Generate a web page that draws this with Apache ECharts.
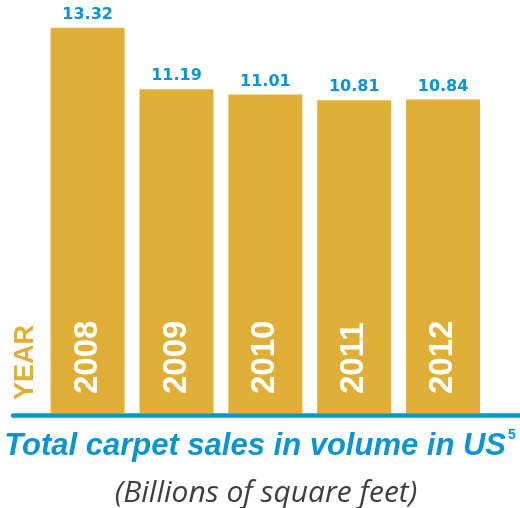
<!DOCTYPE html>
<html>
<head>
<meta charset="utf-8">
<style>
  html, body { margin: 0; padding: 0; background: #ffffff; }
  #chart { width: 520px; height: 508px; }
</style>
<script src="https://cdn.jsdelivr.net/npm/echarts@6/dist/echarts.min.js"></script>
</head>
<body>
<div id="chart"></div>
<script>
// Total carpet sales volume in the US, billions of square feet
const years = ['2008', '2009', '2010', '2011', '2012'];
const sales = [13.32, 11.19, 11.01, 10.81, 10.84];

const GOLD = '#E0AF37';
const BLUE = '#0A94D1';

const chart = echarts.init(document.getElementById('chart'));

chart.setOption({
  animation: false,
  title: [
    {
      text: '{t|Total carpet sales in volume in US}{s|5}',
      left: 'center',
      top: 428,
      padding: 0,
      textStyle: {
        rich: {
          t: {
            fontFamily: 'Liberation Sans, Arial, sans-serif',
            fontWeight: 'bold',
            fontStyle: 'italic',
            fontSize: 31,
            lineHeight: 36,
            color: BLUE
          },
          s: {
            fontFamily: 'Liberation Sans, Arial, sans-serif',
            fontWeight: 'bold',
            fontSize: 14,
            lineHeight: 30,
            verticalAlign: 'top',
            padding: [0, 0, 0, 2],
            color: BLUE
          }
        }
      }
    },
    {
      text: '(Billions of square feet)',
      left: 266,
      top: 478,
      padding: 0,
      textAlign: 'center',
      textStyle: {
        fontFamily: 'Open Sans, Liberation Sans, sans-serif',
        fontWeight: 'normal',
        fontStyle: 'italic',
        fontSize: 30,
        color: '#3f3f3f'
      }
    }
  ],
  graphic: [
    {
      type: 'text',
      x: 26,
      y: 400,
      rotation: Math.PI / 2,
      style: {
        text: 'YEAR',
        fill: GOLD,
        font: 'bold 27px "Liberation Sans", Arial, sans-serif',
        textAlign: 'left',
        textVerticalAlign: 'middle'
      }
    }
  ],
  grid: [
    { left: 43.2, right: 32.5, top: 8, bottom: 95 },
    // full-width baseline under the bars
    { left: 13, right: 0, top: 8, bottom: 93 }
  ],
  xAxis: [
    {
      type: 'category',
      gridIndex: 0,
      data: years,
      axisLine: { show: false },
      axisTick: { show: false },
      axisLabel: { show: false }
    },
    {
      type: 'category',
      gridIndex: 1,
      data: years,
      axisLine: { show: true, lineStyle: { color: BLUE, width: 4.5 } },
      axisTick: { show: false },
      axisLabel: { show: false },
      z: 5
    }
  ],
  yAxis: [
    { type: 'value', gridIndex: 0, min: 0, max: 14, show: false },
    { type: 'value', gridIndex: 1, min: 0, max: 14, show: false }
  ],
  series: [
    {
      type: 'bar',
      xAxisIndex: 0,
      yAxisIndex: 0,
      data: sales,
      barWidth: 74,
      itemStyle: { color: GOLD },
      label: {
        show: true,
        position: 'top',
        distance: 5,
        formatter: p => p.value.toFixed(2),
        color: BLUE,
        fontFamily: 'DejaVu Sans, sans-serif',
        fontWeight: 'bold',
        fontSize: 16
      }
    },
    {
      type: 'bar',
      xAxisIndex: 0,
      yAxisIndex: 0,
      data: sales,
      barWidth: 74,
      barGap: '-100%',
      silent: true,
      itemStyle: { color: 'rgba(0,0,0,0)' },
      label: {
        show: true,
        position: 'insideBottom',
        rotate: 90,
        align: 'left',
        verticalAlign: 'middle',
        distance: 19,
        formatter: '{b}',
        color: '#ffffff',
        fontFamily: 'Liberation Sans, Arial, sans-serif',
        fontWeight: 'bold',
        fontSize: 33
      }
    }
  ]
});
</script>
</body>
</html>
